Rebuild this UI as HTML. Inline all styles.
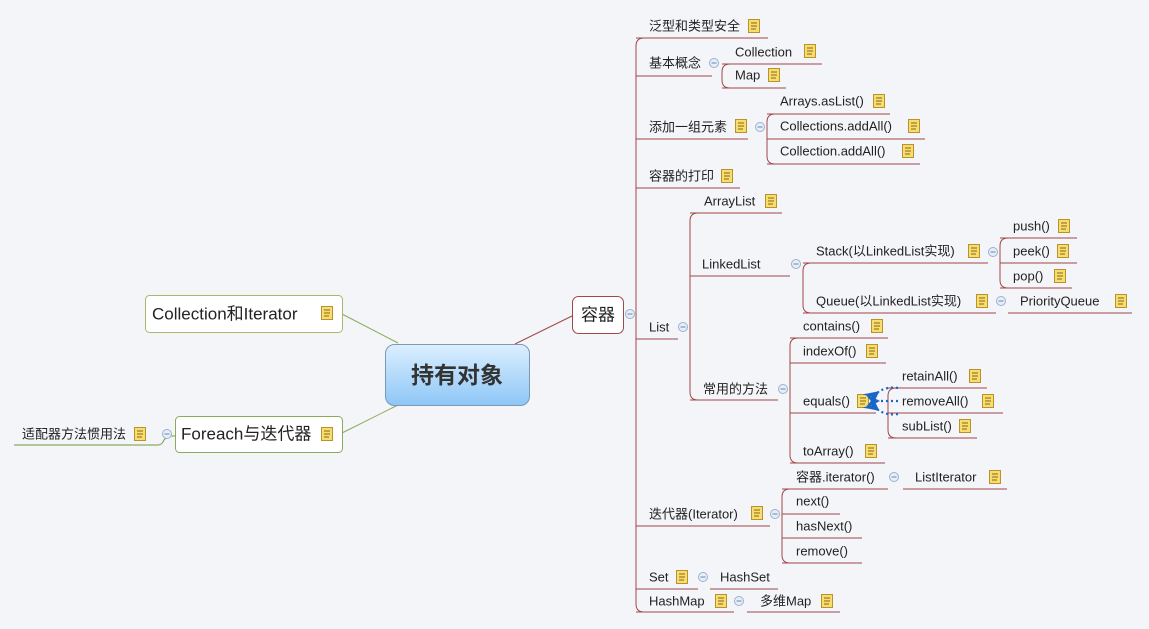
<!DOCTYPE html>
<html><head><meta charset="utf-8"><style>
body{margin:0;background:#f3f5f9;}
svg{display:block;font-family:"Liberation Sans","Noto Sans CJK SC",sans-serif;}
text{font-size:13px;fill:#222;dominant-baseline:central;}
</style></head><body>
<svg width="1149" height="629" viewBox="0 0 1149 629" xmlns="http://www.w3.org/2000/svg">
<defs>
<g id="n"><rect x="0.5" y="-6.5" width="11" height="13" fill="#f7dc6f" stroke="#b8922a"/><path d="M3 -3h6M3 0h6M3 3h5" stroke="#8a6a10" stroke-width="1"/></g>
<g id="c"><circle r="4.5" fill="#e6eef9" stroke="#9db0cc"/><path d="M-2.5 0h5" stroke="#6a85b0"/></g>
<marker id="ar" viewBox="0 0 10 10" refX="2" refY="5" markerWidth="7" markerHeight="7" orient="auto"><path d="M10 0L0 5L10 10L6 5z" fill="#1a66c8"/></marker>
<linearGradient id="g" x1="0" y1="0" x2="0" y2="1"><stop offset="0" stop-color="#dcefff"/><stop offset="1" stop-color="#8ec6f6"/></linearGradient>
</defs>
<g stroke="#a04848" stroke-width="1" fill="none">
<!-- main bracket -->
<path d="M644 38 Q636 38 636 46 V604 Q636 612 644 612"/>
<path d="M636 38H768 M636 76H712 M636 139H748 M636 188H740 M636 339H678 M636 526H770 M636 589H698 M636 612H734"/>
<!-- 基本概念 -->
<path d="M730 64 Q722 64 722 72 V80 Q722 88 730 88 M722 64H822 M722 88H786"/>
<!-- 添加 -->
<path d="M775 114 Q767 114 767 122 V156 Q767 164 775 164 M767 114H890 M767 139H925 M767 164H920"/>
<!-- List -->
<path d="M698 213 Q690 213 690 221 V392 Q690 400 698 400 M690 213H782 M690 276H790 M690 400H778"/>
<path d="M811 263 Q803 263 803 271 V305 Q803 313 811 313 M803 263H988 M803 313H996 M1008 313H1132"/>
<path d="M1008 238 Q1000 238 1000 246 V280 Q1000 288 1008 288 M1000 238H1077 M1000 263H1077 M1000 288H1072"/>
<path d="M798 338 Q790 338 790 346 V455 Q790 463 798 463 M790 338H888 M790 363H886 M790 413H876 M790 463H885"/>
<path d="M896 388 Q888 388 888 396 V430 Q888 438 896 438 M888 388H987 M888 413H1003 M888 438H977"/>
<!-- iterator -->
<path d="M790 489 Q782 489 782 497 V555 Q782 563 790 563 M782 489H888 M903 489H1007 M782 514H840 M782 538H862 M782 563H862"/>
<path d="M710 589H778 M747 612H840"/>
</g>
<!-- root connectors -->
<path d="M515 344 L572 316" stroke="#a04848" fill="none"/>
<path d="M342 314 L398 343" stroke="#8aab5a" fill="none"/>
<path d="M342 433 L398 405" stroke="#8aab5a" fill="none"/>
<path d="M14 445 H158 Q162 445 164 440 L168 436 H175" stroke="#6f9a3a" fill="none"/>
<!-- nodes -->
<rect x="385.5" y="344.5" width="144" height="61" rx="9" fill="url(#g)" stroke="#7a98b8"/>
<text x="457" y="375" text-anchor="middle" style="font-size:23px;font-weight:bold;fill:#333">持有对象</text>
<rect x="572.5" y="296.5" width="51" height="37" rx="6" fill="#fff" stroke="#a04848"/>
<text x="598" y="315" text-anchor="middle" style="font-size:17px">容器</text>
<rect x="145.5" y="295.5" width="197" height="37" rx="4" fill="#fff" stroke="#a8b86a"/>
<text x="152" y="314" style="font-size:17px">Collection和Iterator</text>
<rect x="175.5" y="416.5" width="167" height="36" rx="4" fill="#fff" stroke="#8aab5a"/>
<text x="181" y="434" style="font-size:17px">Foreach与迭代器</text>
<text x="22" y="434">适配器方法惯用法</text>
<!-- circles -->
<use href="#c" x="630" y="314"/><use href="#c" x="167" y="434"/>
<use href="#c" x="714" y="63"/><use href="#c" x="760" y="127"/><use href="#c" x="683" y="327"/>
<use href="#c" x="796" y="264"/><use href="#c" x="993" y="252"/><use href="#c" x="1001" y="301"/>
<use href="#c" x="783" y="389"/><use href="#c" x="775" y="514"/><use href="#c" x="894" y="477"/>
<use href="#c" x="703" y="577"/><use href="#c" x="739" y="601"/>
<!-- labels -->
<text x="649" y="26">泛型和类型安全</text>
<text x="649" y="63">基本概念</text>
<text x="735" y="52">Collection</text>
<text x="735" y="75">Map</text>
<text x="649" y="127">添加一组元素</text>
<text x="780" y="101">Arrays.asList()</text>
<text x="780" y="126">Collections.addAll()</text>
<text x="780" y="151">Collection.addAll()</text>
<text x="649" y="176">容器的打印</text>
<text x="649" y="327">List</text>
<text x="704" y="201">ArrayList</text>
<text x="702" y="264">LinkedList</text>
<text x="816" y="251">Stack(以LinkedList实现)</text>
<text x="1013" y="226">push()</text>
<text x="1013" y="251">peek()</text>
<text x="1013" y="276">pop()</text>
<text x="816" y="301">Queue(以LinkedList实现)</text>
<text x="1020" y="301">PriorityQueue</text>
<text x="703" y="389">常用的方法</text>
<text x="803" y="326">contains()</text>
<text x="803" y="351">indexOf()</text>
<text x="803" y="401">equals()</text>
<text x="803" y="451">toArray()</text>
<text x="902" y="376">retainAll()</text>
<text x="902" y="401">removeAll()</text>
<text x="902" y="426">subList()</text>
<text x="649" y="514">迭代器(Iterator)</text>
<text x="796" y="477">容器.iterator()</text>
<text x="915" y="477">ListIterator</text>
<text x="796" y="501">next()</text>
<text x="796" y="526">hasNext()</text>
<text x="796" y="551">remove()</text>
<text x="649" y="577">Set</text>
<text x="720" y="577">HashSet</text>
<text x="649" y="601">HashMap</text>
<text x="760" y="601">多维Map</text>
<!-- notes -->
<use href="#n" x="748" y="26"/><use href="#n" x="804" y="51"/><use href="#n" x="768" y="75"/>
<use href="#n" x="735" y="126"/><use href="#n" x="873" y="101"/><use href="#n" x="908" y="126"/><use href="#n" x="902" y="151"/>
<use href="#n" x="721" y="176"/><use href="#n" x="765" y="201"/><use href="#n" x="968" y="251"/>
<use href="#n" x="1058" y="226"/><use href="#n" x="1057" y="251"/><use href="#n" x="1054" y="276"/>
<use href="#n" x="976" y="301"/><use href="#n" x="1115" y="301"/>
<use href="#n" x="871" y="326"/><use href="#n" x="866" y="351"/><use href="#n" x="857" y="401"/><use href="#n" x="865" y="451"/>
<use href="#n" x="969" y="376"/><use href="#n" x="982" y="401"/><use href="#n" x="959" y="426"/>
<use href="#n" x="751" y="513"/><use href="#n" x="989" y="477"/>
<use href="#n" x="676" y="577"/><use href="#n" x="715" y="601"/><use href="#n" x="821" y="601"/>
<use href="#n" x="321" y="313"/><use href="#n" x="321" y="434"/><use href="#n" x="134" y="434"/>
<!-- relationship arrows -->
<g stroke="#1a66c8" stroke-width="2.2" stroke-dasharray="2 3" fill="none">
<path d="M898 388 Q886 386 877 393" marker-end="url(#ar)"/>
<path d="M898 401 L877 401" marker-end="url(#ar)"/>
<path d="M898 414 Q886 416 877 409" marker-end="url(#ar)"/>
</g>
</svg>
</body></html>
